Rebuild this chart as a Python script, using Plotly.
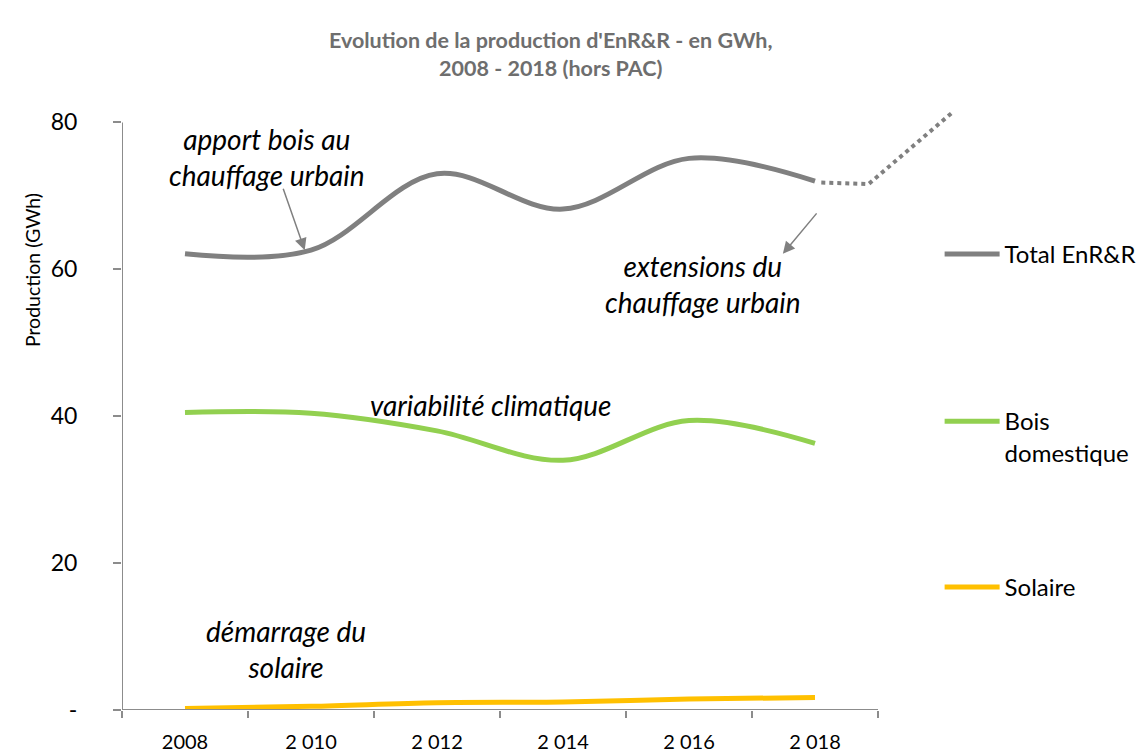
import plotly.graph_objects as go

years = [2008, 2010, 2012, 2014, 2016, 2018]
year_labels = ["2008", "2 010", "2 012", "2 014", "2 016", "2 018"]
total = [62.1, 62.6, 73.0, 68.2, 75.1, 72.0]
bois = [40.5, 40.4, 38.0, 34.0, 39.4, 36.3]
solaire = [0.2, 0.5, 1.0, 1.1, 1.5, 1.7]
# projected extension of the total (dotted)
proj_x = [2018.1, 2018.85, 2020.2]
proj_y = [71.8, 71.6, 81.5]

y_ticks = [0, 20, 40, 60, 80]
y_labels = ["-", "20", "40", "60", "80"]

FONT = "Lato, 'Open Sans', sans-serif"
GRAY = "#808080"
AXIS = "#8c8c8c"

fig = go.Figure()
fig.add_trace(go.Scatter(x=years, y=total, name="Total EnR&R", mode="lines",
                         line=dict(color=GRAY, width=5, shape="spline"), legend="legend"))
fig.add_trace(go.Scatter(x=years, y=bois, name="Bois<br>domestique", mode="lines",
                         line=dict(color="#92d050", width=5, shape="spline"), legend="legend2"))
fig.add_trace(go.Scatter(x=years, y=solaire, name="Solaire", mode="lines",
                         line=dict(color="#ffc000", width=5, shape="spline"), legend="legend3"))
fig.add_trace(go.Scatter(x=proj_x, y=proj_y, mode="lines", showlegend=False,
                         line=dict(color=GRAY, width=4, dash="dot")))

legend_common = dict(font=dict(family=FONT, size=24, color="#000000"), bgcolor="rgba(0,0,0,0)",
                     xanchor="left", yanchor="top", itemwidth=55, valign="top")
fig.update_layout(
    legend=dict(x=0.927, y=0.775, **legend_common),
    legend2=dict(x=0.927, y=0.504, **legend_common),
    legend3=dict(x=0.927, y=0.235, **legend_common),
)

# the page body adds an 8px offset, so margins are set 8px smaller on the left/top
fig.update_layout(
    width=1145, height=754,
    margin=dict(l=114, r=149, t=85, b=52, autoexpand=False),
    plot_bgcolor="white", paper_bgcolor="white",
    font=dict(family=FONT, color="#000000"),
    title=dict(text="Evolution de la production d'EnR&R - en GWh,<br>2008 - 2018 (hors PAC)",
               x=0.474, xanchor="center", xref="container",
               y=1 - 40 / 754, yanchor="middle", yref="container",
               font=dict(family=FONT, size=21.5, color="#6e6e6e", weight="bold")),
    xaxis=dict(range=[2007, 2021], showline=False, showgrid=False, zeroline=False,
               automargin=False,
               tickmode="array", tickvals=years, ticktext=year_labels, ticks="",
               ticklabelstandoff=18,
               tickfont=dict(family=FONT, size=20, color="#000000"),
               minor=dict(tickmode="array", tickvals=[2007, 2009, 2011, 2013, 2015, 2017, 2019],
                          ticks="outside", ticklen=7, tickwidth=1.5, tickcolor=AXIS)),
    yaxis=dict(range=[0, 84], showline=False, showgrid=False, zeroline=False,
               automargin=False,
               tickmode="array", tickvals=y_ticks, ticktext=y_labels,
               ticks="outside", ticklen=8, tickwidth=1.5, tickcolor=AXIS,
               ticklabelstandoff=31,
               tickfont=dict(family=FONT, size=23, color="#000000")),
    showlegend=True,
)

# axis lines (only over the axis extent, not the whole plot area)
fig.add_shape(type="line", xref="x", yref="y", x0=2007, x1=2019, y0=0, y1=0,
              line=dict(color=AXIS, width=2))
fig.add_shape(type="line", xref="x", yref="y", x0=2007, x1=2007, y0=0, y1=80,
              line=dict(color=AXIS, width=2))

# y axis title
fig.add_annotation(text="Production (GWh)", xref="paper", yref="paper",
                   x=-0.102, y=0.713, xanchor="center", yanchor="middle",
                   textangle=-90, showarrow=False,
                   font=dict(family=FONT, size=19.5, color="#000000"))

ann_font = dict(family=FONT, size=28, color="#000000", style="italic")
for txt, ax_, ay_ in [("apport bois au<br>chauffage urbain", 2009.3, 75.3),
                      ("extensions du<br>chauffage urbain", 2016.22, 58.0),
                      ("variabilité climatique", 2012.85, 41.5),
                      ("démarrage du<br>solaire", 2009.6, 8.3)]:
    fig.add_annotation(text=txt, x=ax_, y=ay_, xanchor="center", yanchor="middle",
                       showarrow=False, font=ann_font)

# arrows
fig.add_annotation(text="", x=2009.9, y=62.6, ax=-22, ay=-63, showarrow=True,
                   arrowhead=2, arrowsize=1.6, arrowwidth=1.5, arrowcolor=GRAY)
fig.add_annotation(text="", x=2017.49, y=62.1, ax=35, ay=-42, showarrow=True,
                   arrowhead=2, arrowsize=1.6, arrowwidth=1.5, arrowcolor=GRAY)

fig.write_html("out.html")
